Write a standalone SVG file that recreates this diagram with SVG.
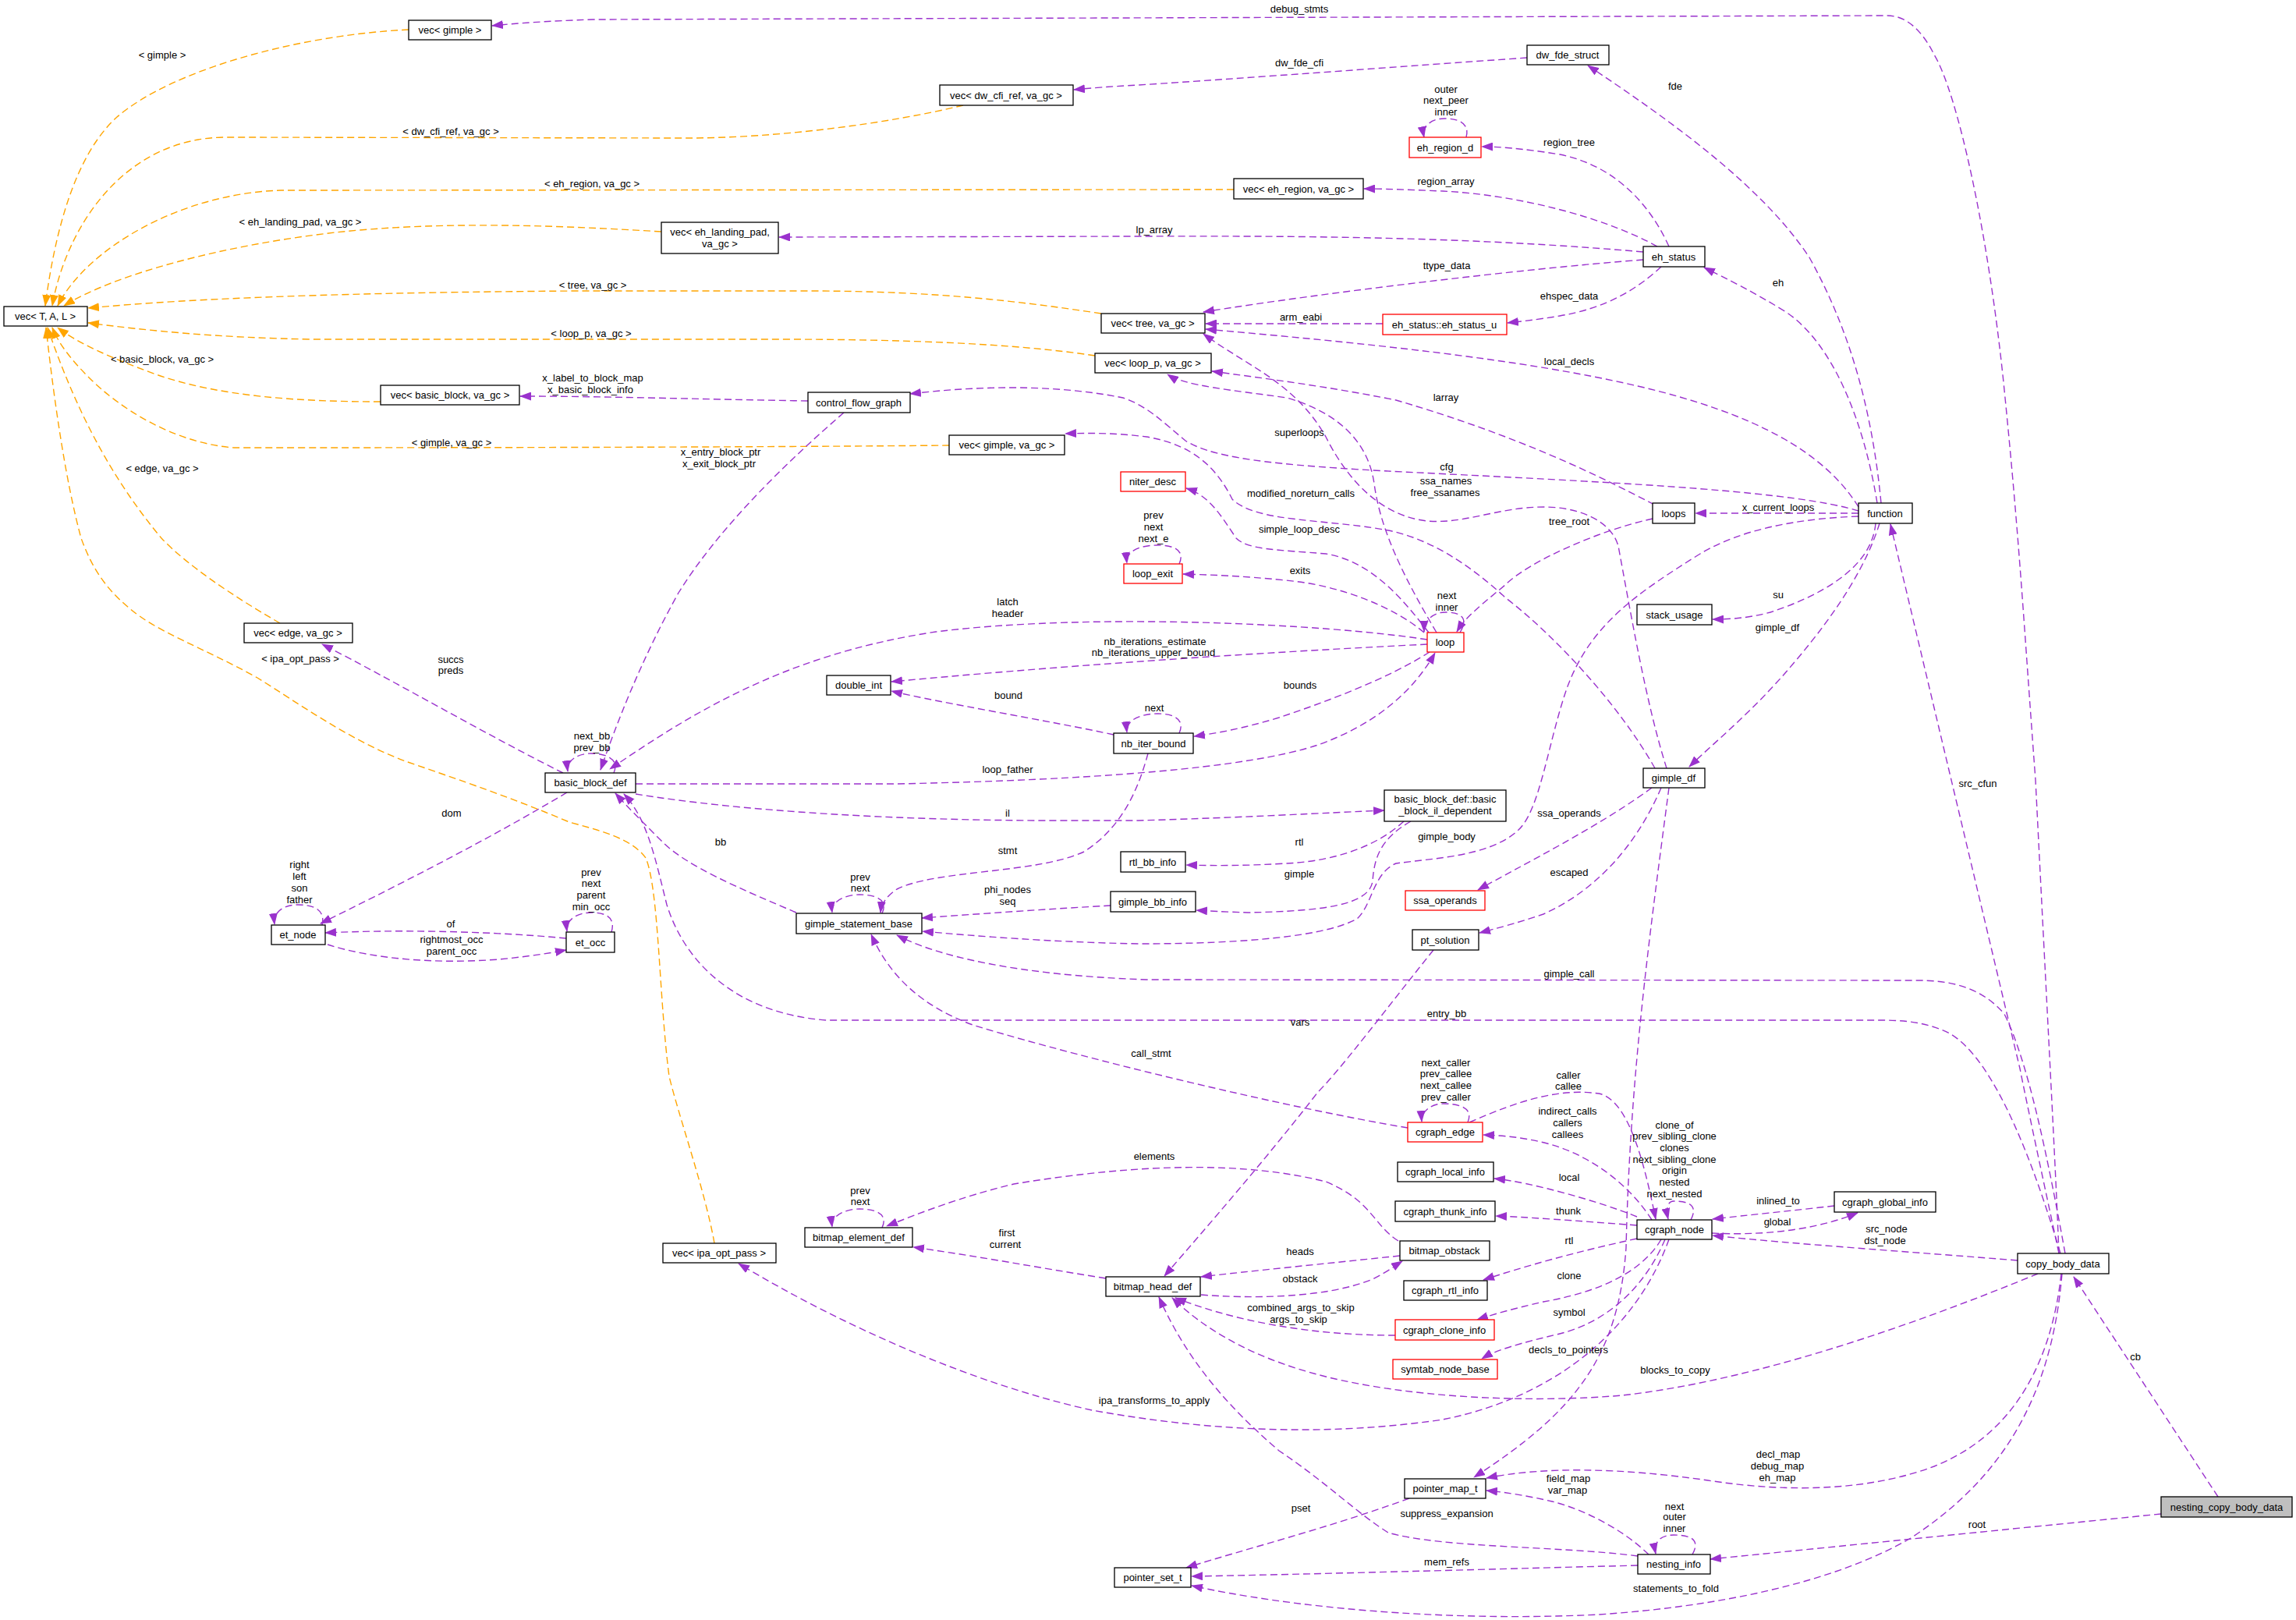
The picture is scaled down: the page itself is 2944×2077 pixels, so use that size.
<svg xmlns="http://www.w3.org/2000/svg" width="2944" height="2077" viewBox="0 0 2944 2077">
<style>
text{font-family:"Liberation Sans",Arial,sans-serif;font-size:13px;fill:#000}
.n rect{fill:#fff;stroke:#000;stroke-width:1.3}
.n.r rect{stroke:#ff0000}
.n.g rect{fill:#bfbfbf}
.n text{text-anchor:middle}
#edges path{fill:none;stroke-width:1.4;stroke-dasharray:9,5}
#edges .p{stroke:#9a32cd;marker-end:url(#ap)}
#edges .o{stroke:#ffa500;marker-end:url(#ao)}
#labels text{text-anchor:middle}
</style>
<defs>
<marker id="ap" markerWidth="15" markerHeight="11" refX="14" refY="5.5" orient="auto" markerUnits="userSpaceOnUse"><path d="M0,0 L15,5.5 L0,11 z" fill="#9a32cd"/></marker>
<marker id="ao" markerWidth="15" markerHeight="11" refX="14" refY="5.5" orient="auto" markerUnits="userSpaceOnUse"><path d="M0,0 L15,5.5 L0,11 z" fill="#ffa500"/></marker>
</defs>
<rect width="2944" height="2077" fill="#fff"/>
<g id="edges">
<path class="o" d="M524,38 C380,45 220,90 150,150 C95,200 70,300 58,392"/>
<path class="o" d="M1235,135 C1140,158 1000,177 880,177 L290,176 C160,176 85,290 67,392"/>
<path class="o" d="M1582,243 L360,244 C230,248 110,320 74,392"/>
<path class="o" d="M848,297 C700,288 560,284 430,298 C290,314 150,350 82,392"/>
<path class="o" d="M1412,402 C1300,385 1200,374 1050,373 L740,373 C450,375 250,382 113,395"/>
<path class="o" d="M1404,456 C1300,440 1150,435 1000,435 L400,435 C280,433 190,424 113,414"/>
<path class="o" d="M488,515 C380,515 280,508 200,480 C140,458 100,440 74,420"/>
<path class="o" d="M1217,571 C1000,573 700,574 300,574 C220,568 150,520 115,485 C90,460 75,440 67,420"/>
<path class="o" d="M359,799 C300,765 240,725 207,690 C140,610 95,520 61,420"/>
<path class="o" d="M916,1594 C905,1530 870,1430 858,1380 C845,1280 845,1140 828,1100 C810,1075 770,1065 730,1054 C650,1020 560,990 520,976 C450,950 380,900 330,869 C260,830 200,810 165,779 C130,750 115,720 104,690 C85,620 70,520 59,420"/>
<path class="p" d="M2640,1607 C2636,1500 2625,1300 2610,1000 C2595,800 2590,700 2570,500 C2550,300 2510,120 2480,70 C2465,40 2445,20 2420,20 L760,25 C700,27 660,30 631,33"/>
<path class="p" d="M1958,74 C1800,85 1600,100 1460,109 C1420,111 1400,113 1377,115"/>
<path class="p" d="M2412,645 C2400,520 2370,420 2320,330 C2260,240 2150,160 2036,84"/>
<path class="p" d="M2407,645 C2390,540 2350,440 2290,400 C2250,375 2215,358 2185,343"/>
<path class="p" d="M2383,650 C2340,580 2250,530 2100,495 C1950,460 1750,440 1546,422"/>
<path class="p" d="M2383,655 C2300,630 2100,620 1840,607 C1650,598 1560,590 1520,565 C1490,540 1470,520 1440,510 C1350,492 1250,495 1167,505"/>
<path class="p" d="M2383,658 L2174,658"/>
<path class="p" d="M2405,671 C2400,730 2330,765 2270,785 C2240,793 2215,794 2196,794"/>
<path class="p" d="M2410,671 C2395,720 2360,780 2300,850 C2250,910 2200,950 2166,983"/>
<path class="p" d="M2383,662 C2300,665 2230,680 2180,710 C2100,760 2040,800 2010,880 C1985,950 1975,1040 1946,1065 C1910,1098 1840,1100 1790,1107 C1760,1120 1760,1160 1740,1178 C1700,1200 1600,1210 1460,1210 C1350,1208 1250,1200 1183,1194"/>
<path class="p" d="M2640,1607 C2615,1490 2600,1420 2590,1370 L2424,672"/>
<path class="p" d="M2648,1607 C2625,1480 2600,1360 2570,1300 C2540,1265 2500,1257 2460,1257 L1470,1256 C1300,1250 1200,1225 1150,1199"/>
<path class="p" d="M2642,1607 C2610,1500 2560,1360 2500,1325 C2470,1310 2440,1308 2410,1308 L1060,1308 C950,1300 880,1240 855,1160 C840,1100 830,1050 800,1018"/>
<path class="p" d="M2587,1616 C2450,1605 2300,1595 2196,1584"/>
<path class="p" d="M2613,1633 C2450,1700 2250,1770 2080,1789 C1950,1800 1800,1790 1700,1765 C1600,1740 1540,1700 1503,1664"/>
<path class="p" d="M2643,1633 C2630,1750 2580,1840 2480,1880 C2400,1910 2300,1915 2190,1898 C2080,1882 1980,1880 1906,1895"/>
<path class="p" d="M2644,1633 C2630,1800 2560,1900 2450,1972 C2350,2030 2200,2060 2050,2070 C1850,2080 1650,2060 1528,2033"/>
<path class="p" d="M2844,1919 L2659,1637"/>
<path class="p" d="M2771,1941 L2193,1999"/>
<path class="p" d="M2170,1993 C2180,1975 2170,1968 2146,1968 C2128,1968 2120,1978 2123,1992"/>
<path class="p" d="M2114,1993 C2080,1960 2030,1935 1990,1925 C1960,1918 1930,1913 1906,1911"/>
<path class="p" d="M2100,1995 C2000,1982 1850,1985 1780,1965 C1740,1940 1700,1900 1640,1860 C1570,1800 1520,1740 1486,1663"/>
<path class="p" d="M2100,2007 C1900,2012 1700,2018 1528,2021"/>
<path class="p" d="M1807,1921 C1700,1960 1600,1985 1521,2010"/>
<path class="p" d="M2168,1564 C2178,1545 2165,1540 2146,1540 C2138,1540 2136,1550 2139,1563"/>
<path class="p" d="M1884,1439 C1950,1410 2000,1395 2050,1402 C2090,1410 2110,1500 2123,1563"/>
<path class="p" d="M2118,1564 C2090,1520 2040,1480 1980,1465 C1950,1458 1930,1456 1902,1455"/>
<path class="p" d="M1882,1439 C1890,1420 1870,1415 1851,1415 C1835,1415 1822,1425 1823,1438"/>
<path class="p" d="M1805,1446 C1650,1420 1400,1360 1250,1315 C1180,1290 1140,1250 1117,1198"/>
<path class="p" d="M2099,1560 C2050,1540 1960,1515 1916,1511"/>
<path class="p" d="M2099,1571 C2020,1565 1950,1560 1918,1559"/>
<path class="p" d="M2099,1588 C2020,1605 1950,1625 1902,1641"/>
<path class="p" d="M2130,1589 C2100,1640 2030,1660 1979,1669 C1940,1678 1915,1685 1894,1692"/>
<path class="p" d="M2135,1589 C2100,1670 2040,1700 2000,1710 C1950,1722 1920,1730 1900,1742"/>
<path class="p" d="M2140,1589 C2100,1700 2000,1790 1850,1820 C1700,1842 1550,1835 1400,1808 C1250,1775 1080,1700 947,1620"/>
<path class="p" d="M2352,1546 C2300,1552 2240,1558 2196,1563"/>
<path class="p" d="M2195,1581 C2280,1585 2340,1572 2382,1555"/>
<path class="p" d="M2118,1010 C2050,1060 1950,1110 1895,1141"/>
<path class="p" d="M2130,1010 C2100,1080 2050,1140 1979,1172 C1940,1185 1920,1190 1897,1196"/>
<path class="p" d="M2140,1010 C2115,1200 2090,1380 2085,1600 C2075,1740 2020,1810 1890,1894"/>
<path class="p" d="M2137,985 C2110,900 2090,780 2075,700 C2065,665 2020,650 1980,650 C1920,650 1880,672 1830,668 C1760,660 1720,600 1700,560 C1660,490 1600,470 1543,428"/>
<path class="p" d="M2122,985 C2080,910 2000,820 1930,766 C1880,720 1830,690 1780,680 C1700,665 1610,670 1580,640 C1560,600 1530,570 1470,560 C1430,555 1400,555 1366,556"/>
<path class="p" d="M2119,665 C2050,680 1960,720 1930,750 C1900,775 1880,790 1868,810"/>
<path class="p" d="M2121,647 C2050,610 1950,560 1790,513 C1700,495 1620,485 1554,476"/>
<path class="p" d="M1842,811 C1800,740 1770,680 1762,620 C1755,570 1720,530 1650,510 C1580,500 1520,495 1497,480"/>
<path class="p" d="M2140,316 C2110,250 2060,210 2000,198 C1950,190 1920,188 1900,188"/>
<path class="p" d="M2125,316 C2060,280 1950,250 1850,245 C1800,243 1770,242 1749,242"/>
<path class="p" d="M2107,323 C1900,305 1700,302 1460,303 L999,304"/>
<path class="p" d="M2107,333 C1950,345 1700,375 1543,400"/>
<path class="p" d="M2130,342 C2100,370 2060,395 2000,405 C1970,410 1950,412 1933,414"/>
<path class="p" d="M1773,415 L1546,415"/>
<path class="p" d="M1880,176 C1885,158 1870,152 1852,152 C1835,152 1823,162 1826,176"/>
<path class="p" d="M1826,811 C1790,780 1720,750 1648,744 C1590,738 1550,737 1517,736"/>
<path class="p" d="M1832,811 C1800,770 1760,720 1700,710 C1640,705 1600,705 1585,690 C1565,660 1550,635 1521,626"/>
<path class="p" d="M1872,811 C1885,790 1870,785 1853,785 C1838,785 1826,795 1826,810"/>
<path class="p" d="M1830,820 C1700,800 1400,785 1200,810 C1000,840 880,920 782,986"/>
<path class="p" d="M1830,826 C1650,835 1400,850 1143,874"/>
<path class="p" d="M1833,836 C1780,870 1700,900 1640,920 C1590,935 1560,940 1531,944"/>
<path class="p" d="M815,1005 L1150,1005 C1400,1000 1600,985 1690,955 C1760,930 1810,890 1840,837"/>
<path class="p" d="M1512,723 C1520,705 1505,699 1484,699 C1465,699 1443,705 1445,722"/>
<path class="p" d="M1428,942 C1350,925 1200,900 1143,886"/>
<path class="p" d="M1512,940 C1520,922 1505,915 1484,915 C1465,915 1443,922 1445,939"/>
<path class="p" d="M1472,966 C1460,1010 1440,1060 1390,1092 C1330,1120 1200,1115 1150,1140 C1135,1150 1130,1160 1129,1170"/>
<path class="p" d="M1036,514 C900,512 780,508 667,508"/>
<path class="p" d="M1082,529 C1000,600 920,680 870,760 C820,850 790,930 770,987"/>
<path class="p" d="M722,991 C620,940 500,870 413,826"/>
<path class="p" d="M787,991 C795,972 775,966 758,966 C742,966 726,974 728,989"/>
<path class="p" d="M727,1016 C620,1080 500,1140 411,1184"/>
<path class="p" d="M726,1203 C620,1193 500,1192 417,1196"/>
<path class="p" d="M420,1211 C480,1230 560,1236 640,1230 C680,1226 705,1222 726,1218"/>
<path class="p" d="M413,1186 C418,1165 400,1160 382,1160 C365,1160 350,1168 352,1185"/>
<path class="p" d="M784,1195 C790,1175 775,1170 758,1170 C742,1170 725,1178 727,1194"/>
<path class="p" d="M1021,1170 C950,1140 880,1110 850,1080 C820,1050 805,1035 789,1017"/>
<path class="p" d="M815,1018 C950,1040 1150,1052 1350,1052 L1460,1052 C1600,1048 1700,1042 1775,1039"/>
<path class="p" d="M1800,1053 C1760,1090 1700,1105 1648,1107 C1600,1110 1560,1110 1521,1109"/>
<path class="p" d="M1809,1053 C1770,1075 1762,1100 1760,1130 C1755,1160 1700,1168 1600,1170 C1570,1169 1550,1168 1534,1167"/>
<path class="p" d="M1424,1161 C1350,1165 1250,1172 1182,1177"/>
<path class="p" d="M1131,1171 C1140,1152 1120,1147 1102,1147 C1085,1147 1065,1155 1067,1170"/>
<path class="p" d="M1838,1218 C1780,1290 1720,1370 1690,1400 C1620,1490 1550,1570 1493,1636"/>
<path class="p" d="M1418,1639 C1330,1625 1250,1610 1171,1599"/>
<path class="p" d="M1131,1574 C1140,1555 1120,1550 1102,1550 C1085,1550 1065,1558 1067,1573"/>
<path class="p" d="M1793,1591 C1760,1570 1760,1540 1700,1515 C1600,1490 1470,1490 1300,1518 C1230,1535 1180,1555 1137,1572"/>
<path class="p" d="M1795,1610 C1700,1620 1600,1630 1540,1637"/>
<path class="p" d="M1540,1660 C1600,1665 1700,1665 1760,1640 C1780,1630 1790,1622 1798,1617"/>
<path class="p" d="M1789,1712 C1700,1712 1600,1700 1507,1664"/>
</g>
<g id="labels">
<text x="208" y="75">&lt; gimple &gt;</text>
<text x="578" y="173">&lt; dw_cfi_ref, va_gc &gt;</text>
<text x="759" y="240">&lt; eh_region, va_gc &gt;</text>
<text x="385" y="289">&lt; eh_landing_pad, va_gc &gt;</text>
<text x="760" y="370">&lt; tree, va_gc &gt;</text>
<text x="758" y="432">&lt; loop_p, va_gc &gt;</text>
<text x="208" y="465">&lt; basic_block, va_gc &gt;</text>
<text x="579" y="572">&lt; gimple, va_gc &gt;</text>
<text x="208" y="605">&lt; edge, va_gc &gt;</text>
<text x="385" y="849">&lt; ipa_opt_pass &gt;</text>
<text x="1666" y="16">debug_stmts</text>
<text x="1666" y="85">dw_fde_cfi</text>
<text x="2148" y="115">fde</text>
<text x="1854" y="119">outer</text><text x="1854" y="133">next_peer</text><text x="1854" y="148">inner</text>
<text x="2012" y="187">region_tree</text>
<text x="1854" y="237">region_array</text>
<text x="1480" y="299">lp_array</text>
<text x="1855" y="345">ttype_data</text>
<text x="2280" y="367">eh</text>
<text x="2012" y="384">ehspec_data</text>
<text x="1668" y="411">arm_eabi</text>
<text x="2012" y="468">local_decls</text>
<text x="1854" y="514">larray</text>
<text x="760" y="489">x_label_to_block_map</text><text x="757" y="504">x_basic_block_info</text>
<text x="1666" y="559">superloops</text>
<text x="924" y="584">x_entry_block_ptr</text><text x="922" y="599">x_exit_block_ptr</text>
<text x="1855" y="603">cfg</text>
<text x="1854" y="621">ssa_names</text><text x="1853" y="636">free_ssanames</text>
<text x="1668" y="637">modified_noreturn_calls</text>
<text x="2280" y="655">x_current_loops</text>
<text x="1479" y="665">prev</text><text x="1479" y="680">next</text><text x="1479" y="695">next_e</text>
<text x="2012" y="673">tree_root</text>
<text x="1666" y="683">simple_loop_desc</text>
<text x="1667" y="736">exits</text>
<text x="2280" y="767">su</text>
<text x="1855" y="768">next</text><text x="1855" y="783">inner</text>
<text x="1292" y="776">latch</text><text x="1292" y="791">header</text>
<text x="2279" y="809">gimple_df</text>
<text x="1481" y="827">nb_iterations_estimate</text><text x="1479" y="841">nb_iterations_upper_bound</text>
<text x="578" y="850">succs</text><text x="578" y="864">preds</text>
<text x="1667" y="883">bounds</text>
<text x="1293" y="896">bound</text>
<text x="1480" y="912">next</text>
<text x="759" y="948">next_bb</text><text x="759" y="963">prev_bb</text>
<text x="1292" y="991">loop_father</text>
<text x="2536" y="1009">src_cfun</text>
<text x="579" y="1047">dom</text>
<text x="1292" y="1047">il</text>
<text x="2012" y="1047">ssa_operands</text>
<text x="1855" y="1077">gimple_body</text>
<text x="924" y="1084">bb</text>
<text x="1666" y="1084">rtl</text>
<text x="1292" y="1095">stmt</text>
<text x="384" y="1113">right</text><text x="384" y="1128">left</text><text x="384" y="1143">son</text><text x="384" y="1158">father</text>
<text x="758" y="1123">prev</text><text x="758" y="1137">next</text><text x="758" y="1152">parent</text><text x="758" y="1167">min_occ</text>
<text x="2012" y="1123">escaped</text>
<text x="1666" y="1125">gimple</text>
<text x="1103" y="1129">prev</text><text x="1103" y="1143">next</text>
<text x="1292" y="1145">phi_nodes</text><text x="1292" y="1160">seq</text>
<text x="578" y="1189">of</text>
<text x="579" y="1209">rightmost_occ</text><text x="579" y="1224">parent_occ</text>
<text x="2012" y="1253">gimple_call</text>
<text x="1855" y="1304">entry_bb</text>
<text x="1667" y="1315">vars</text>
<text x="1476" y="1355">call_stmt</text>
<text x="1854" y="1367">next_caller</text><text x="1854" y="1381">prev_callee</text><text x="1854" y="1396">next_callee</text><text x="1854" y="1411">prev_caller</text>
<text x="2011" y="1383">caller</text><text x="2011" y="1397">callee</text>
<text x="2010" y="1429">indirect_calls</text><text x="2010" y="1444">callers</text><text x="2010" y="1459">callees</text>
<text x="2147" y="1447">clone_of</text><text x="2147" y="1461">prev_sibling_clone</text><text x="2147" y="1476">clones</text><text x="2147" y="1491">next_sibling_clone</text><text x="2147" y="1505">origin</text><text x="2147" y="1520">nested</text><text x="2147" y="1535">next_nested</text>
<text x="1480" y="1487">elements</text>
<text x="2012" y="1514">local</text>
<text x="1103" y="1531">prev</text><text x="1103" y="1545">next</text>
<text x="2280" y="1544">inlined_to</text>
<text x="2011" y="1557">thunk</text>
<text x="2279" y="1571">global</text>
<text x="2419" y="1580">src_node</text><text x="2417" y="1595">dst_node</text>
<text x="1291" y="1585">first</text><text x="1289" y="1600">current</text>
<text x="2012" y="1595">rtl</text>
<text x="1667" y="1609">heads</text>
<text x="2012" y="1640">clone</text>
<text x="1667" y="1644">obstack</text>
<text x="1668" y="1681">combined_args_to_skip</text><text x="1665" y="1696">args_to_skip</text>
<text x="2012" y="1687">symbol</text>
<text x="2011" y="1735">decls_to_pointers</text>
<text x="2738" y="1744">cb</text>
<text x="2148" y="1761">blocks_to_copy</text>
<text x="1480" y="1800">ipa_transforms_to_apply</text>
<text x="2280" y="1869">decl_map</text><text x="2279" y="1884">debug_map</text><text x="2279" y="1899">eh_map</text>
<text x="2011" y="1900">field_map</text><text x="2010" y="1915">var_map</text>
<text x="2147" y="1936">next</text><text x="2147" y="1949">outer</text><text x="2147" y="1964">inner</text>
<text x="1668" y="1938">pset</text>
<text x="1855" y="1945">suppress_expansion</text>
<text x="2535" y="1959">root</text>
<text x="1855" y="2007">mem_refs</text>
<text x="2149" y="2041">statements_to_fold</text>
</g>
<g id="n_vec_gimple" class="n"><rect x="524" y="26" width="106" height="25"/><text x="577" y="43">vec&lt; gimple &gt;</text></g>
<g id="n_vec_TAL" class="n"><rect x="5" y="393" width="107" height="25"/><text x="58" y="410">vec&lt; T, A, L &gt;</text></g>
<g id="n_vec_bb" class="n"><rect x="488" y="494" width="178" height="25"/><text x="577" y="511">vec&lt; basic_block, va_gc &gt;</text></g>
<g id="n_vec_dwcfi" class="n"><rect x="1205" y="109" width="171" height="26"/><text x="1290" y="127">vec&lt; dw_cfi_ref, va_gc &gt;</text></g>
<g id="n_vec_ehlp" class="n"><rect x="848" y="285" width="150" height="40"/><text x="923" y="302">vec&lt; eh_landing_pad,</text><text x="923" y="317">va_gc &gt;</text></g>
<g id="n_cfg" class="n"><rect x="1036" y="503" width="131" height="26"/><text x="1101" y="521">control_flow_graph</text></g>
<g id="n_vec_gimple_gc" class="n"><rect x="1217" y="558" width="148" height="25"/><text x="1291" y="575">vec&lt; gimple, va_gc &gt;</text></g>
<g id="n_vec_tree" class="n"><rect x="1412" y="402" width="133" height="25"/><text x="1478" y="419">vec&lt; tree, va_gc &gt;</text></g>
<g id="n_vec_loop" class="n"><rect x="1404" y="453" width="149" height="25"/><text x="1478" y="470">vec&lt; loop_p, va_gc &gt;</text></g>
<g id="n_niter_desc" class="n r"><rect x="1437" y="605" width="83" height="25"/><text x="1478" y="622">niter_desc</text></g>
<g id="n_dw_fde_struct" class="n"><rect x="1958" y="58" width="105" height="25"/><text x="2010" y="75">dw_fde_struct</text></g>
<g id="n_eh_region_d" class="n r"><rect x="1807" y="176" width="92" height="26"/><text x="1853" y="194">eh_region_d</text></g>
<g id="n_vec_ehregion" class="n"><rect x="1582" y="229" width="166" height="26"/><text x="1665" y="247">vec&lt; eh_region, va_gc &gt;</text></g>
<g id="n_eh_status" class="n"><rect x="2107" y="316" width="79" height="26"/><text x="2146" y="334">eh_status</text></g>
<g id="n_eh_status_u" class="n r"><rect x="1773" y="403" width="159" height="26"/><text x="1852" y="421">eh_status::eh_status_u</text></g>
<g id="n_loops" class="n"><rect x="2119" y="645" width="54" height="26"/><text x="2146" y="663">loops</text></g>
<g id="n_function" class="n"><rect x="2383" y="645" width="69" height="26"/><text x="2417" y="663">function</text></g>
<g id="n_vec_edge" class="n"><rect x="313" y="799" width="139" height="25"/><text x="382" y="816">vec&lt; edge, va_gc &gt;</text></g>
<g id="n_basic_block_def" class="n"><rect x="699" y="991" width="116" height="25"/><text x="757" y="1008">basic_block_def</text></g>
<g id="n_et_node" class="n"><rect x="348" y="1186" width="69" height="25"/><text x="382" y="1203">et_node</text></g>
<g id="n_et_occ" class="n"><rect x="726" y="1195" width="62" height="26"/><text x="757" y="1213">et_occ</text></g>
<g id="n_double_int" class="n"><rect x="1060" y="866" width="82" height="25"/><text x="1101" y="883">double_int</text></g>
<g id="n_gimple_statement_base" class="n"><rect x="1021" y="1171" width="161" height="26"/><text x="1101" y="1189">gimple_statement_base</text></g>
<g id="n_nb_iter_bound" class="n"><rect x="1428" y="940" width="102" height="26"/><text x="1479" y="958">nb_iter_bound</text></g>
<g id="n_rtl_bb_info" class="n"><rect x="1437" y="1092" width="83" height="26"/><text x="1478" y="1110">rtl_bb_info</text></g>
<g id="n_gimple_bb_info" class="n"><rect x="1424" y="1143" width="109" height="26"/><text x="1478" y="1161">gimple_bb_info</text></g>
<g id="n_loop_exit" class="n r"><rect x="1441" y="723" width="75" height="25"/><text x="1478" y="740">loop_exit</text></g>
<g id="n_loop" class="n r"><rect x="1830" y="811" width="47" height="25"/><text x="1853" y="828">loop</text></g>
<g id="n_stack_usage" class="n"><rect x="2099" y="775" width="96" height="26"/><text x="2147" y="793">stack_usage</text></g>
<g id="n_gimple_df" class="n"><rect x="2107" y="985" width="79" height="25"/><text x="2146" y="1002">gimple_df</text></g>
<g id="n_bb_il_dep" class="n"><rect x="1775" y="1013" width="156" height="40"/><text x="1853" y="1029">basic_block_def::basic</text><text x="1853" y="1044">_block_il_dependent</text></g>
<g id="n_ssa_operands" class="n r"><rect x="1802" y="1142" width="102" height="25"/><text x="1853" y="1159">ssa_operands</text></g>
<g id="n_pt_solution" class="n"><rect x="1811" y="1192" width="85" height="26"/><text x="1853" y="1210">pt_solution</text></g>
<g id="n_vec_ipa" class="n"><rect x="850" y="1594" width="145" height="25"/><text x="922" y="1611">vec&lt; ipa_opt_pass &gt;</text></g>
<g id="n_bitmap_element_def" class="n"><rect x="1032" y="1574" width="138" height="25"/><text x="1101" y="1591">bitmap_element_def</text></g>
<g id="n_bitmap_head_def" class="n"><rect x="1418" y="1637" width="121" height="25"/><text x="1478" y="1654">bitmap_head_def</text></g>
<g id="n_pointer_set_t" class="n"><rect x="1429" y="2010" width="98" height="25"/><text x="1478" y="2027">pointer_set_t</text></g>
<g id="n_cgraph_edge" class="n r"><rect x="1805" y="1439" width="96" height="25"/><text x="1853" y="1456">cgraph_edge</text></g>
<g id="n_cgraph_local_info" class="n"><rect x="1792" y="1490" width="123" height="25"/><text x="1853" y="1507">cgraph_local_info</text></g>
<g id="n_cgraph_thunk_info" class="n"><rect x="1789" y="1540" width="128" height="26"/><text x="1853" y="1558">cgraph_thunk_info</text></g>
<g id="n_bitmap_obstack" class="n"><rect x="1795" y="1591" width="115" height="25"/><text x="1852" y="1608">bitmap_obstack</text></g>
<g id="n_cgraph_rtl_info" class="n"><rect x="1800" y="1642" width="107" height="25"/><text x="1853" y="1659">cgraph_rtl_info</text></g>
<g id="n_cgraph_clone_info" class="n r"><rect x="1789" y="1692" width="127" height="26"/><text x="1852" y="1710">cgraph_clone_info</text></g>
<g id="n_symtab_node_base" class="n r"><rect x="1786" y="1743" width="134" height="25"/><text x="1853" y="1760">symtab_node_base</text></g>
<g id="n_cgraph_node" class="n"><rect x="2099" y="1564" width="96" height="25"/><text x="2147" y="1581">cgraph_node</text></g>
<g id="n_pointer_map_t" class="n"><rect x="1801" y="1896" width="104" height="25"/><text x="1853" y="1913">pointer_map_t</text></g>
<g id="n_nesting_info" class="n"><rect x="2100" y="1993" width="93" height="25"/><text x="2146" y="2010">nesting_info</text></g>
<g id="n_cgraph_global_info" class="n"><rect x="2352" y="1528" width="130" height="26"/><text x="2417" y="1546">cgraph_global_info</text></g>
<g id="n_copy_body_data" class="n"><rect x="2587" y="1607" width="117" height="26"/><text x="2645" y="1625">copy_body_data</text></g>
<g id="n_nesting_copy_body_data" class="n g"><rect x="2771" y="1919" width="168" height="26"/><text x="2855" y="1937">nesting_copy_body_data</text></g>
</svg>
